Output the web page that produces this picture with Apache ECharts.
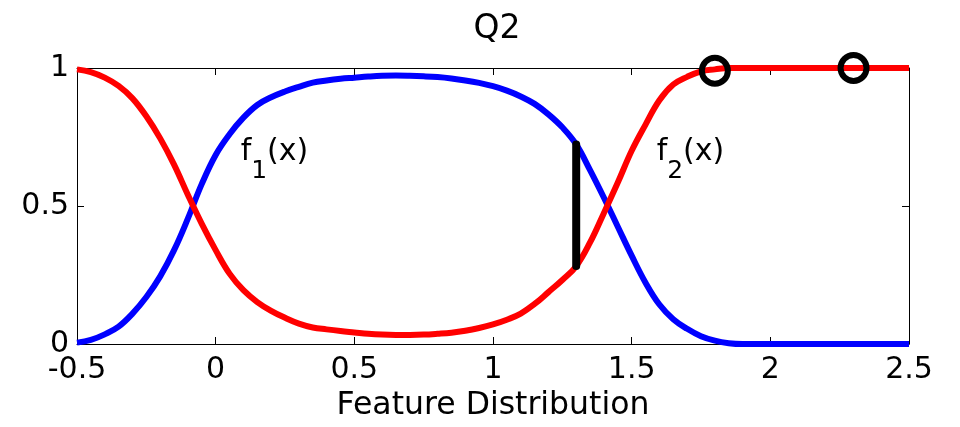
<!DOCTYPE html>
<html>
<head>
<meta charset="utf-8">
<script src="https://cdn.jsdelivr.net/npm/echarts@6/dist/echarts.min.js"></script>
<style>html,body{margin:0;padding:0;background:#fff;}#c{width:960px;height:427px;}</style>
</head>
<body>
<div id="c"></div>
<script>
var xValues = [-0.50,-0.45,-0.40,-0.35,-0.30,-0.25,-0.20,-0.15,-0.10,-0.05,
  0.00,0.05,0.10,0.15,0.20,0.25,0.30,0.35,0.40,0.45,
  0.50,0.55,0.60,0.65,0.70,0.75,0.80,0.85,0.90,0.95,
  1.00,1.05,1.10,1.15,1.20,1.25,1.30,1.35,1.40,1.45,
  1.50,1.55,1.60,1.65,1.70,1.75,1.80,1.85,1.90,1.95,
  2.00,2.05,2.10,2.15,2.20,2.25,2.30,2.35,2.40,2.45,2.50];
var f1Values = [0.005,0.015,0.035,0.063,0.11,0.17,0.245,0.34,0.455,0.58,
  0.685,0.76,0.82,0.866,0.894,0.915,0.932,0.947,0.955,0.961,
  0.965,0.969,0.972,0.973,0.972,0.970,0.967,0.962,0.955,0.946,
  0.934,0.918,0.897,0.87,0.832,0.785,0.723,0.63,0.53,0.425,
  0.32,0.222,0.143,0.09,0.055,0.028,0.012,0.003,0,0,
  0,0,0,0,0,0,0,0,0,0,0];
var f2Values = [0.995,0.985,0.965,0.935,0.89,0.825,0.745,0.65,0.54,0.435,
  0.34,0.255,0.195,0.152,0.12,0.095,0.074,0.06,0.053,0.047,
  0.042,0.037,0.034,0.033,0.033,0.034,0.037,0.041,0.048,0.058,
  0.071,0.088,0.11,0.145,0.188,0.232,0.282,0.368,0.475,0.585,
  0.70,0.795,0.883,0.94,0.968,0.988,0.995,1,1,1,
  1,1,1,1,1,1,1,1,1,1,1];
var barX = [1.3, 1.3];
var barY = [0.283, 0.723];
var circleX = [1.8, 2.3];
var circleY = [0.99, 1.0];
var labelX = [0.09, 1.59];
var labelY = [0.664, 0.664];
var labelSub = ['1', '2'];
var titleText = 'Q2';
var xAxisName = 'Feature Distribution';

function pairs(xs, ys) { return xs.map(function (x, i) { return [x, ys[i]]; }); }

var FONT = 'DejaVu Sans';
var chart = echarts.init(document.getElementById('c'), null, {renderer: 'canvas'});
var axisCommon = {
  axisLine: {show: true, onZero: false, lineStyle: {color: '#000', width: 1}},
  axisTick: {show: true, inside: true, length: 7, lineStyle: {color: '#000', width: 1}},
  splitLine: {show: false}
};
var option = {
  animation: false,
  backgroundColor: '#fff',
  title: {
    text: titleText, left: 492, top: 8, textAlign: 'center',
    textStyle: {fontFamily: FONT, fontSize: 33, fontWeight: 'normal', color: '#000'}
  },
  grid: {left: 77, top: 68, width: 832, height: 277, containLabel: false},
  xAxis: [
    Object.assign({
      type: 'value', position: 'bottom', min: -0.5, max: 2.5, interval: 0.5,
      name: xAxisName, nameLocation: 'middle', nameGap: 46,
      nameTextStyle: {fontFamily: FONT, fontSize: 31.5, color: '#000'},
      axisLabel: {fontFamily: FONT, fontSize: 30, color: '#000', margin: 11}
    }, axisCommon),
    Object.assign({
      type: 'value', position: 'top', min: -0.5, max: 2.5, interval: 0.5,
      axisLabel: {show: false}
    }, axisCommon)
  ],
  yAxis: [
    Object.assign({
      type: 'value', position: 'left', min: 0, max: 1, interval: 0.5,
      axisLabel: {fontFamily: FONT, fontSize: 30, color: '#000', margin: 8}
    }, axisCommon),
    Object.assign({
      type: 'value', position: 'right', min: 0, max: 1, interval: 0.5,
      axisLabel: {show: false}
    }, axisCommon)
  ],
  series: [
    {
      type: 'line', data: pairs(xValues, f1Values), smooth: 0.4,
      showSymbol: false, symbol: 'none',
      lineStyle: {color: '#0000ff', width: 6}, clip: false, z: 2
    },
    {
      type: 'line', data: pairs(xValues, f2Values), smooth: 0.4,
      showSymbol: false, symbol: 'none',
      lineStyle: {color: '#ff0000', width: 6}, clip: false, z: 3
    },
    {
      type: 'line', data: pairs(barX, barY), showSymbol: false, symbol: 'none',
      lineStyle: {color: '#000', width: 8, cap: 'round'}, clip: false, z: 4
    },
    {
      type: 'scatter', data: pairs(circleX, circleY), symbol: 'circle', symbolSize: 26,
      itemStyle: {color: 'rgba(0,0,0,0)', borderColor: '#000', borderWidth: 6, opacity: 1},
      clip: false, z: 5
    },
    {
      type: 'scatter', symbol: 'circle', symbolSize: 0, clip: false, z: 6,
      itemStyle: {opacity: 1},
      data: labelX.map(function (x, i) {
        return {value: [x, labelY[i]], sub: labelSub[i]};
      }),
      label: {
        show: true, position: 'right', distance: 0, color: '#000', opacity: 1,
        formatter: function (p) { return '{a|f}{b|' + p.data.sub + '}{a|(x)}'; },
        rich: {
          a: {fontFamily: FONT, fontSize: 30, color: '#000', verticalAlign: 'top'},
          b: {fontFamily: FONT, fontSize: 25, color: '#000', verticalAlign: 'top', padding: [22, 0, 0, 0]}
        }
      }
    }
  ]
};
chart.setOption(option);
</script>
</body>
</html>
